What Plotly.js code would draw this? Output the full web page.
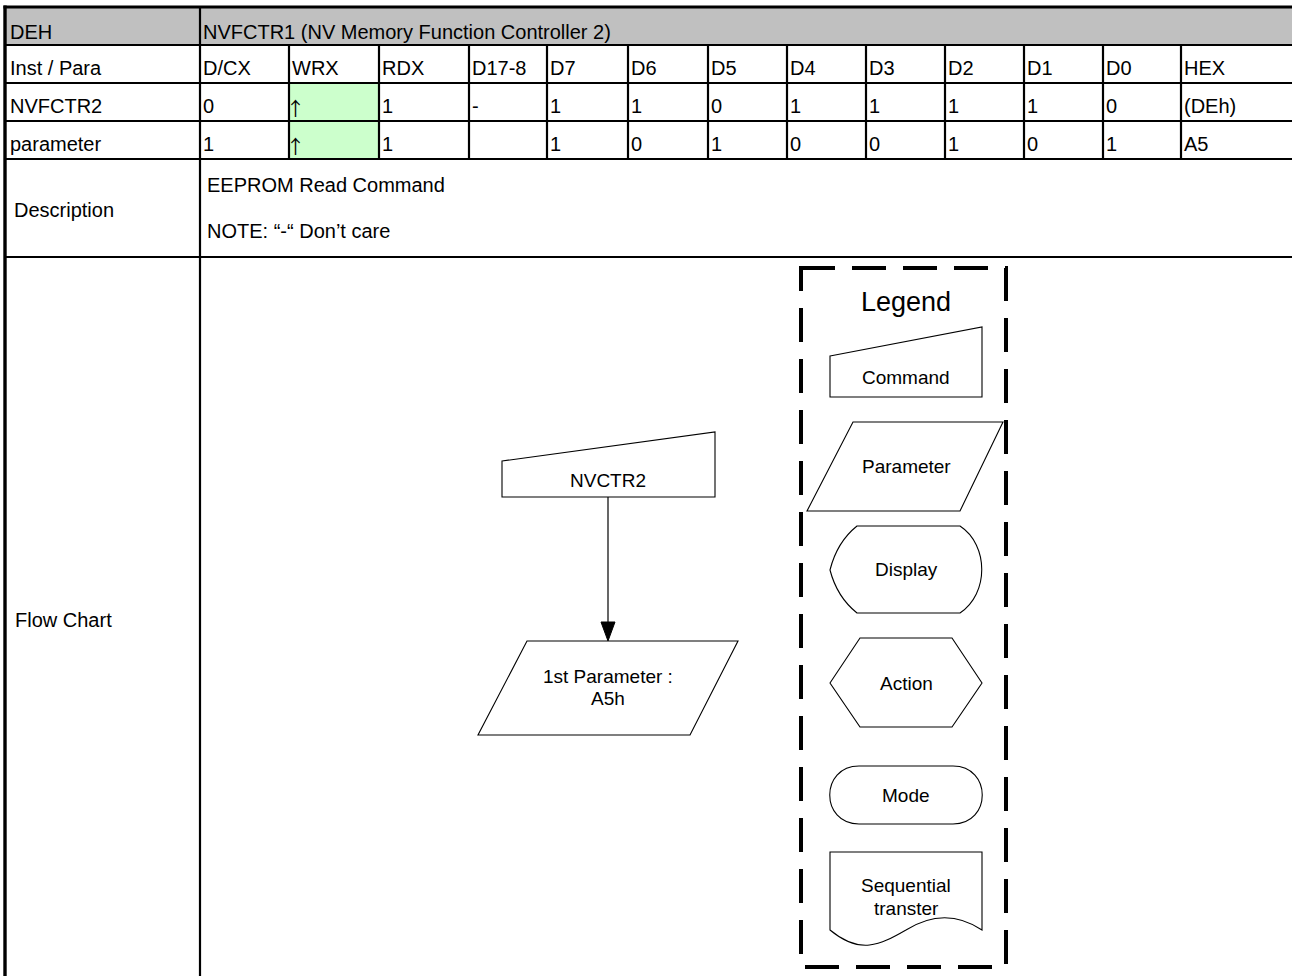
<!DOCTYPE html>
<html>
<head>
<meta charset="utf-8">
<script src="https://cdn.plot.ly/plotly-3.0.1.min.js"></script>
<style>html,body{margin:0;padding:0;background:#fff;}#chart{width:1292px;height:976px;}</style>
</head>
<body>
<div id="chart"></div>
<script>
// ---- content ----
const titleCode = 'DEH';
const titleName = 'NVFCTR1 (NV Memory Function Controller 2)';
const colHeaders = ['Inst / Para','D/CX','WRX','RDX','D17-8','D7','D6','D5','D4','D3','D2','D1','D0','HEX'];
const cmdRow = ['NVFCTR2','0','\u2191','1','-','1','1','0','1','1','1','1','0','(DEh)'];
const paramRow = ['parameter','1','\u2191','1','','1','0','1','0','0','1','0','1','A5'];
const descLabel = 'Description';
const descLines = ['EEPROM Read Command', 'NOTE: \u201C-\u201C Don\u2019t care'];
const flowLabel = 'Flow Chart';
const flowNodes = [['NVCTR2'], ['1st Parameter :', 'A5h']];
const legendTitle = 'Legend';
const legendItems = [['Command'], ['Parameter'], ['Display'], ['Action'], ['Mode'], ['Sequential', 'transter']];

// ---- layout geometry ----
const colEdges = [5, 200, 289, 379, 469, 547, 628, 708, 787, 866, 945, 1024, 1103, 1181, 1292];
const rowEdges = [7, 45, 83, 121, 159, 257, 976];
const highlightCol = 2;
const FONT = 'Liberation Sans, Arial, sans-serif';
const tableFont = {family: FONT, size: 20, color: '#000'};
const arrowFont = {family: 'Noto Sans CJK JP, DejaVu Sans, sans-serif', size: 19, color: '#000'};
const shapeFont = {family: FONT, size: 19, color: '#000'};

const shapes = [];
const annotations = [];
const W = 1292;

function txt(x, y, t, font, xanchor) {
  annotations.push({x: x, y: y, xref: 'x', yref: 'y', text: t, showarrow: false,
    xanchor: xanchor || 'left', yanchor: 'middle', font: font, borderpad: 0});
}

// backgrounds
shapes.push({type: 'rect', x0: colEdges[0], x1: W, y0: rowEdges[0], y1: rowEdges[1],
  fillcolor: '#C0C0C0', line: {width: 0}, layer: 'below'});
shapes.push({type: 'rect', x0: colEdges[highlightCol], x1: colEdges[highlightCol + 1],
  y0: rowEdges[2], y1: rowEdges[4], fillcolor: '#CCFFCC', line: {width: 0}, layer: 'below'});

// horizontal grid lines
for (let i = 1; i <= 5; i++) {
  shapes.push({type: 'line', x0: colEdges[0], x1: W, y0: rowEdges[i], y1: rowEdges[i],
    line: {color: '#000', width: 2.2}});
}
// column dividers in rows 2-4
for (let c = 2; c < colEdges.length - 1; c++) {
  shapes.push({type: 'line', x0: colEdges[c], x1: colEdges[c], y0: rowEdges[1], y1: rowEdges[4],
    line: {color: '#000', width: 2.2}});
}
// first column divider full height
shapes.push({type: 'line', x0: colEdges[1], x1: colEdges[1], y0: rowEdges[0], y1: rowEdges[6],
  line: {color: '#000', width: 2.2}});
// outer borders
shapes.push({type: 'line', x0: 3.5, x1: W, y0: rowEdges[0], y1: rowEdges[0], line: {color: '#000', width: 3.2}});
shapes.push({type: 'line', x0: colEdges[0], x1: colEdges[0], y0: 5.5, y1: 976, line: {color: '#000', width: 3.4}});

// table text
const textY = [32, 68, 106, 144];
txt(colEdges[0] + 4, textY[0], titleCode, tableFont);
txt(colEdges[1] + 2, textY[0], titleName, tableFont);
[colHeaders, cmdRow, paramRow].forEach(function (row, r) {
  row.forEach(function (v, c) {
    if (v === '') return;
    const isArrow = (v === '\u2191');
    txt(colEdges[c] + (c === 0 ? 4 : (isArrow ? -4 : 2)), textY[r + 1] + (isArrow ? 1 : 0), v, isArrow ? arrowFont : tableFont);
  });
});
txt(colEdges[0] + 8, 210, descLabel, tableFont);
txt(colEdges[1] + 6, 185, descLines[0], tableFont);
txt(colEdges[1] + 6, 231, descLines[1], tableFont);
txt(colEdges[0] + 9, 620, flowLabel, tableFont);

// ---- flow chart ----
const thin = {color: '#000', width: 1.1};
shapes.push({type: 'path', path: 'M 502,461 L 715,432 L 715,497 L 502,497 Z', line: thin});
txt(608, 480, flowNodes[0][0], shapeFont, 'center');
shapes.push({type: 'line', x0: 608, x1: 608, y0: 497, y1: 624, line: {color: '#000', width: 1.2}});
shapes.push({type: 'path', path: 'M 601,622 L 615,622 L 608,641 Z', fillcolor: '#000', line: {color: '#000', width: 1}});
shapes.push({type: 'path', path: 'M 527,641 L 738,641 L 690,735 L 478,735 Z', line: thin});
txt(608, 676, flowNodes[1][0], shapeFont, 'center');
txt(608, 698, flowNodes[1][1], shapeFont, 'center');

// ---- legend box ----
shapes.push({type: 'rect', x0: 801, x1: 1006, y0: 268, y1: 967,
  line: {color: '#000', width: 4, dash: '34px,17px'}});
txt(906, 302, legendTitle, {family: FONT, size: 27, color: '#000'}, 'center');

const legendPaths = [
  'M 830,356 L 982,327 L 982,397 L 830,397 Z',
  'M 853,422 L 1003,422 L 960,511 L 807,511 Z',
  'M 857,526 L 960,526 C 989,545 989,594 960,613 L 857,613 Q 837,597 830,570 Q 837,542 857,526 Z',
  'M 830,683 L 860,638 L 952,638 L 982,683 L 952,727 L 860,727 Z',
  'M 859,766 L 953,766 C 992,766 992,824 953,824 L 859,824 C 820,824 820,766 859,766 Z',
  'M 830,852 L 982,852 L 982,930 C 955,912 930,915 906,930 C 880,945 860,955 830,930 Z'
];
const legendTextY = [[377], [466], [569], [683], [795], [885, 908]];
legendPaths.forEach(function (p, i) {
  shapes.push({type: 'path', path: p, line: thin});
  legendItems[i].forEach(function (t, j) {
    txt(906, legendTextY[i][j], t, shapeFont, 'center');
  });
});

const layout = {
  width: 1292, height: 976,
  margin: {l: 0, r: 0, t: 0, b: 0, pad: 0},
  paper_bgcolor: '#fff', plot_bgcolor: '#fff',
  showlegend: false,
  xaxis: {range: [0, 1292], visible: false, fixedrange: true},
  yaxis: {range: [976, 0], visible: false, fixedrange: true},
  shapes: shapes,
  annotations: annotations
};
const traces = [{type: 'scatter', x: [0], y: [0], mode: 'markers', marker: {opacity: 0}, hoverinfo: 'skip'}];
Plotly.newPlot('chart', traces, layout, {displayModeBar: false, staticPlot: true});
</script>
</body>
</html>
